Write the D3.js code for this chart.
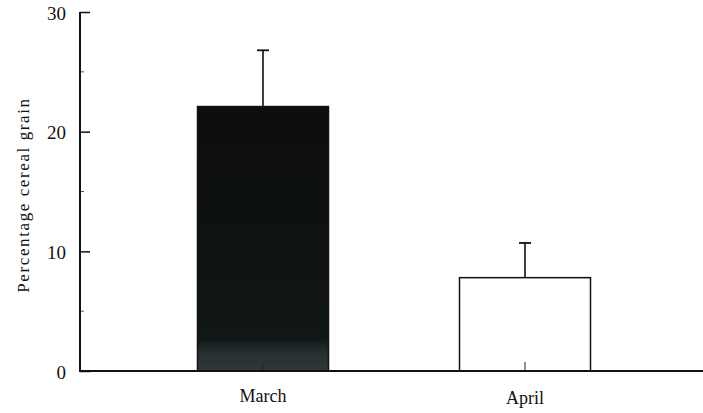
<!DOCTYPE html>
<html>
<head>
<meta charset="utf-8">
<script src="https://cdn.jsdelivr.net/npm/d3@7"></script>
<style>
  body { margin: 0; background: #fff; }
  svg text { font-family: "Liberation Serif", "Times New Roman", serif; fill: #111; }
</style>
</head>
<body>
<div id="chart"></div>
<script>
'use strict';

// values
var months = ['March', 'April'];
var means = [22.1, 7.8];
var errors = [4.7, 2.9];
var yTicks = [0, 10, 20, 30];
var yMinorTicks = [5, 15, 25];

var width = 703, height = 413;

var svg = d3.select('#chart')
    .append('svg')
    .attr('width', width)
    .attr('height', height);

var yScale = d3.scaleLinear()
    .domain([0, 30])
    .range([371, 12]);

var xScale = d3.scaleBand()
    .domain(months)
    .range([132, 656])
    .paddingInner(0.5)
    .paddingOuter(0.25);

// gradient to mimic the scanned dark bar
var defs = svg.append('defs');
var grad = defs.append('linearGradient')
    .attr('id', 'darkbar')
    .attr('x1', 0).attr('y1', 0).attr('x2', 0).attr('y2', 1);
grad.append('stop').attr('offset', '0%').attr('stop-color', '#0c0d0e');
grad.append('stop').attr('offset', '88%').attr('stop-color', '#111617');
grad.append('stop').attr('offset', '93%').attr('stop-color', '#263030');
grad.append('stop').attr('offset', '100%').attr('stop-color', '#2e3939');

// error bars (drawn first so bars sit on them)
svg.selectAll('line.err')
    .data(months)
    .enter()
    .append('line')
    .attr('class', 'err')
    .attr('x1', function (d) { return xScale(d) + xScale.bandwidth() / 2; })
    .attr('x2', function (d) { return xScale(d) + xScale.bandwidth() / 2; })
    .attr('y1', function (d, i) { return yScale(means[i]); })
    .attr('y2', function (d, i) { return yScale(means[i] + errors[i]); })
    .attr('stroke', '#111')
    .attr('stroke-width', 1.6);

svg.selectAll('line.cap')
    .data(months)
    .enter()
    .append('line')
    .attr('class', 'cap')
    .attr('x1', function (d) { return xScale(d) + xScale.bandwidth() / 2 - 6; })
    .attr('x2', function (d) { return xScale(d) + xScale.bandwidth() / 2 + 6; })
    .attr('y1', function (d, i) { return yScale(means[i] + errors[i]); })
    .attr('y2', function (d, i) { return yScale(means[i] + errors[i]); })
    .attr('stroke', '#111')
    .attr('stroke-width', 1.8);

// bars
svg.selectAll('rect.bar')
    .data(months)
    .enter()
    .append('rect')
    .attr('class', 'bar')
    .attr('x', function (d) { return xScale(d); })
    .attr('y', function (d, i) { return yScale(means[i]); })
    .attr('width', xScale.bandwidth())
    .attr('height', function (d, i) { return yScale(0) - yScale(means[i]); })
    .attr('fill', function (d, i) { return i === 0 ? 'url(#darkbar)' : '#fff'; })
    .attr('stroke', '#111')
    .attr('stroke-width', 1.5);

// x tick marks at bar centres (inward)
svg.selectAll('line.xtick')
    .data(months)
    .enter()
    .append('line')
    .attr('class', 'xtick')
    .attr('x1', function (d) { return xScale(d) + xScale.bandwidth() / 2; })
    .attr('x2', function (d) { return xScale(d) + xScale.bandwidth() / 2; })
    .attr('y1', yScale(0))
    .attr('y2', yScale(0) - 9)
    .attr('stroke', '#222')
    .attr('stroke-width', 1);

// x axis line
svg.append('line')
    .attr('x1', 79)
    .attr('x2', width)
    .attr('y1', yScale(0))
    .attr('y2', yScale(0))
    .attr('stroke', '#111')
    .attr('stroke-width', 2);

// y axis
var yAxis = d3.axisRight(yScale)
    .tickValues(yTicks)
    .tickSize(10)
    .tickFormat('');

var yg = svg.append('g')
    .attr('transform', 'translate(80,0)')
    .call(yAxis);
yg.select('.domain').remove();
yg.selectAll('.tick line').attr('stroke', '#111').attr('stroke-width', 1.5);

svg.selectAll('line.ymin')
    .data(yMinorTicks)
    .enter()
    .append('line')
    .attr('class', 'ymin')
    .attr('x1', 80)
    .attr('x2', 84)
    .attr('y1', function (d) { return yScale(d); })
    .attr('y2', function (d) { return yScale(d); })
    .attr('stroke', '#555')
    .attr('stroke-width', 1);

svg.append('line')
    .attr('x1', 80)
    .attr('x2', 80)
    .attr('y1', yScale(30))
    .attr('y2', yScale(0))
    .attr('stroke', '#111')
    .attr('stroke-width', 2);

// y tick labels
svg.selectAll('text.ylab')
    .data(yTicks)
    .enter()
    .append('text')
    .attr('class', 'ylab')
    .attr('x', 66)
    .attr('y', function (d) { return yScale(d) + 1; })
    .attr('dy', '0.35em')
    .attr('text-anchor', 'end')
    .attr('font-size', '19px')
    .attr('fill', '#222')
    .text(function (d) { return d; });

// x labels
svg.selectAll('text.xlab')
    .data(months)
    .enter()
    .append('text')
    .attr('class', 'xlab')
    .attr('x', function (d) { return xScale(d) + xScale.bandwidth() / 2; })
    .attr('y', function (d, i) { return i === 0 ? 402 : 404; })
    .attr('text-anchor', 'middle')
    .attr('font-size', '18px')
    .text(function (d) { return d; });

// y axis title
svg.append('text')
    .attr('transform', 'translate(29,195) rotate(-90)')
    .attr('text-anchor', 'middle')
    .attr('font-size', '17px')
    .attr('letter-spacing', '1.6px')
    .text('Percentage cereal grain');
</script>
</body>
</html>
